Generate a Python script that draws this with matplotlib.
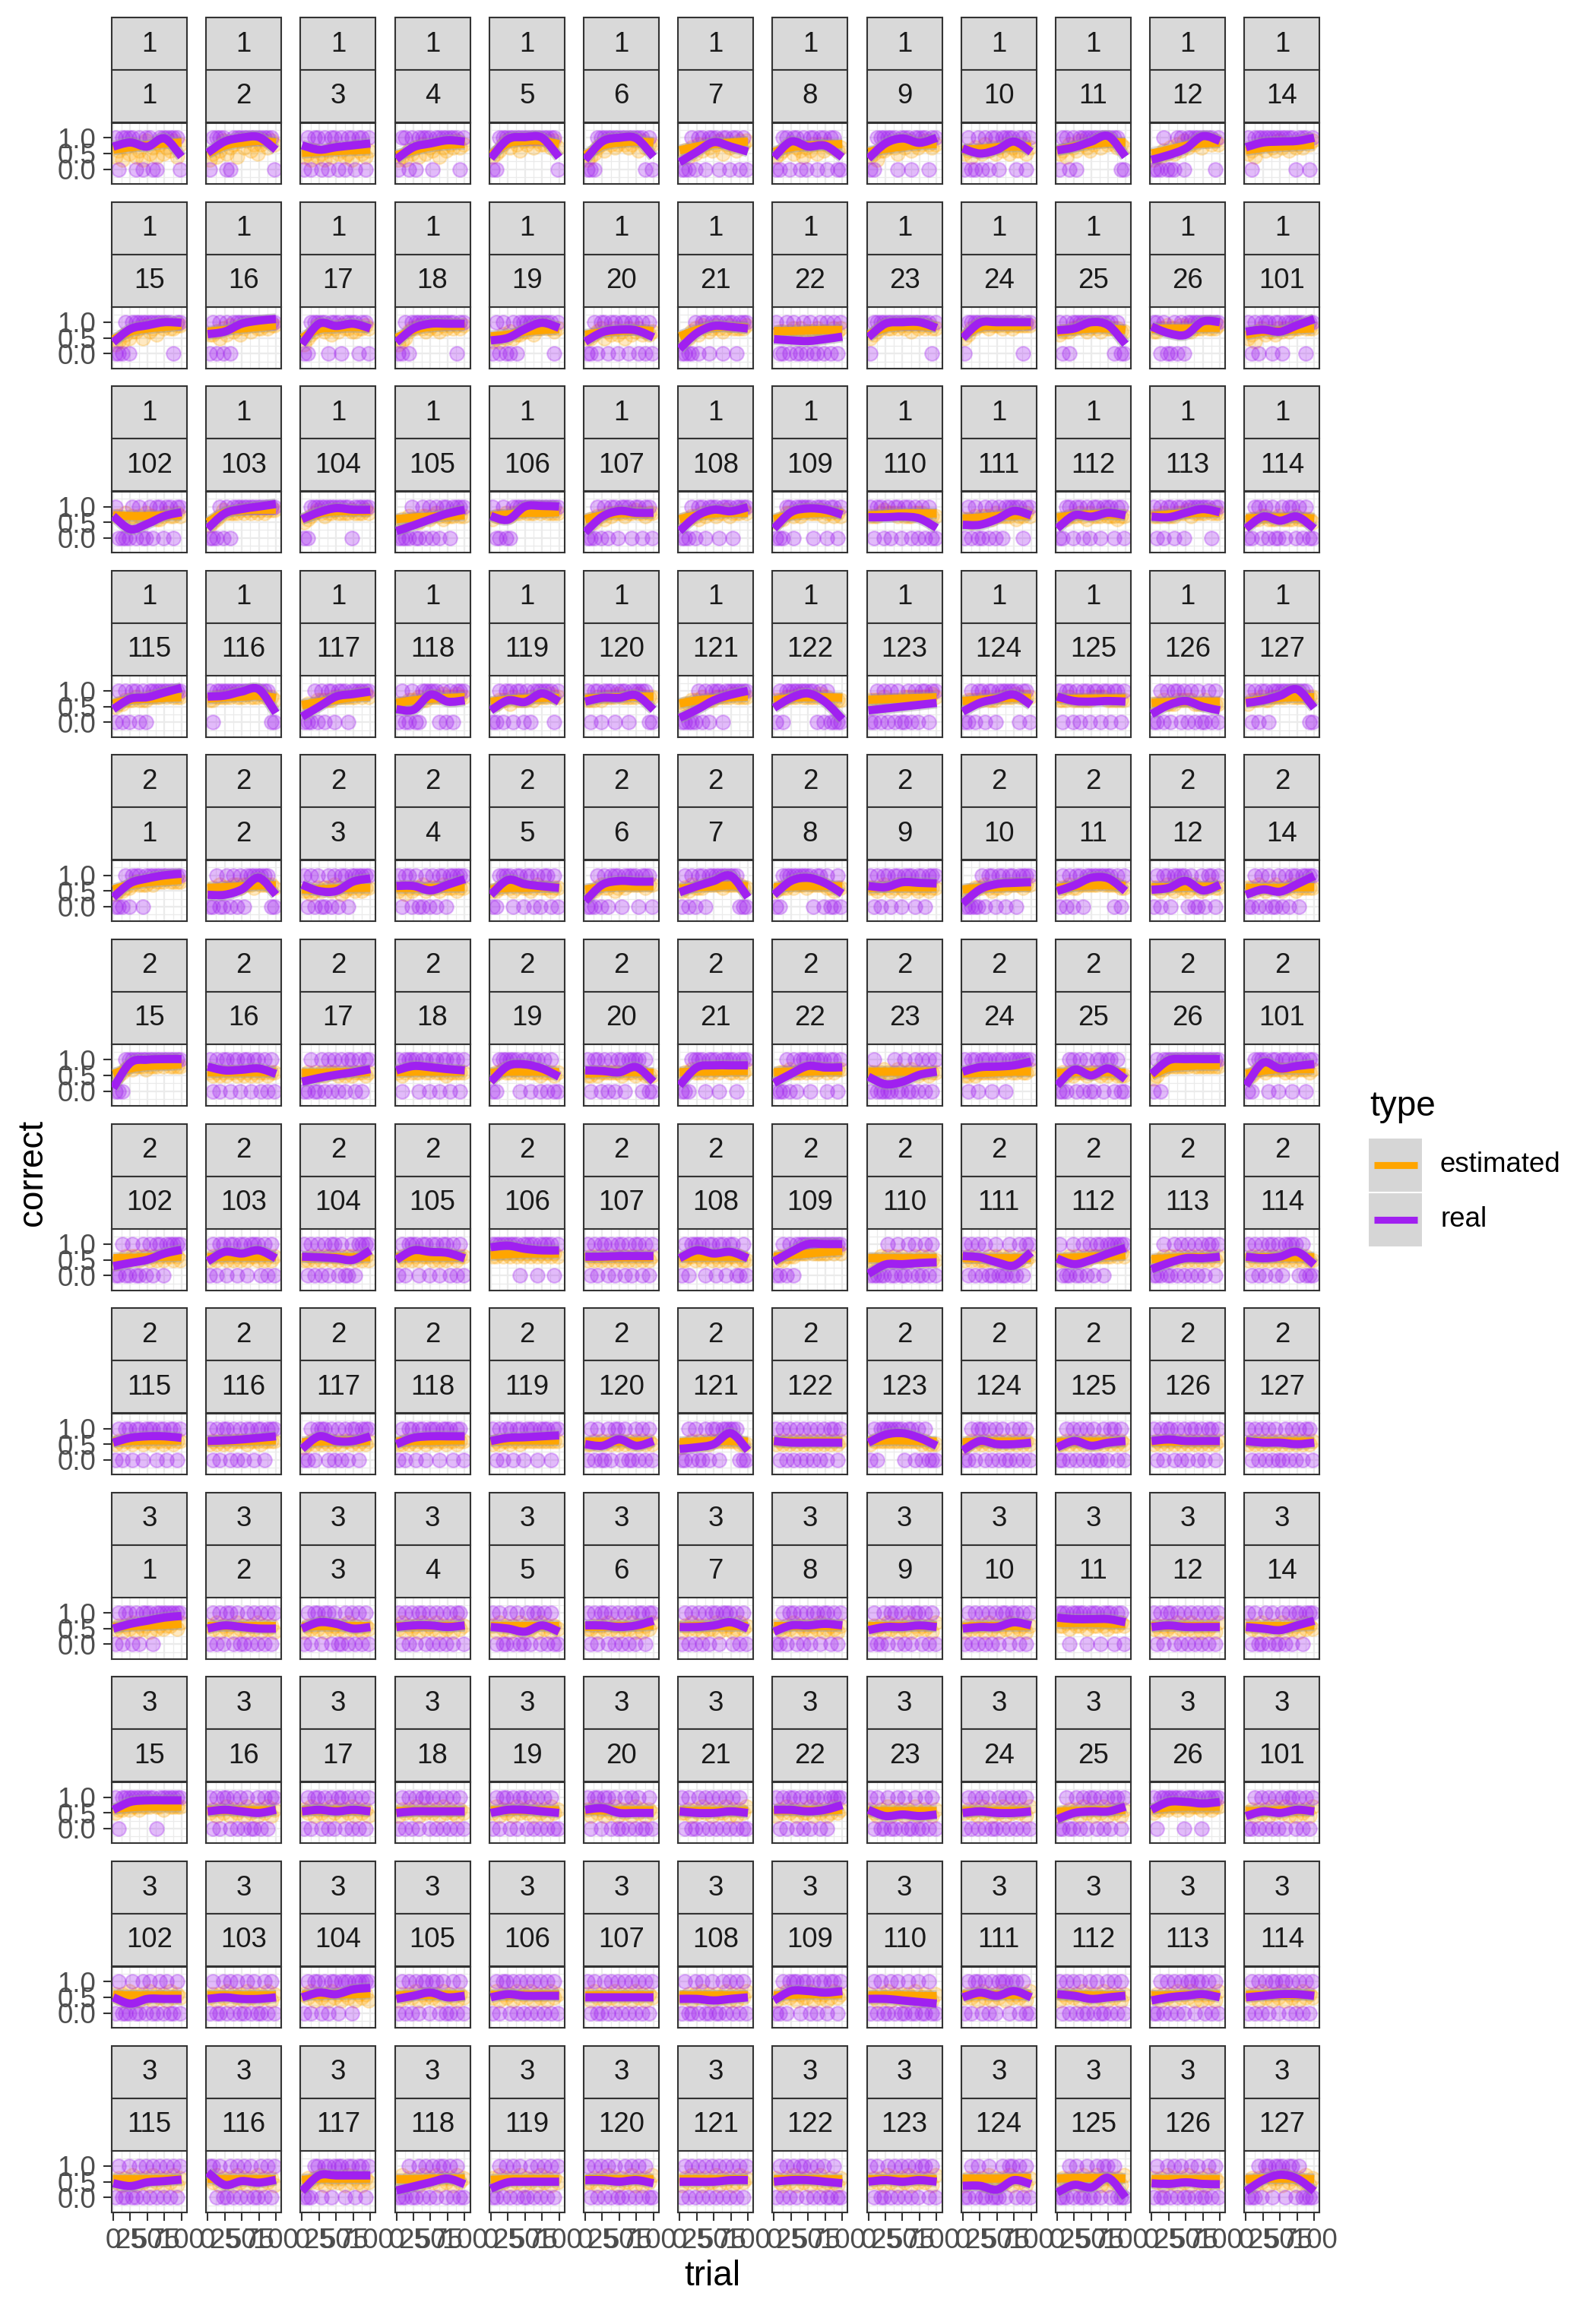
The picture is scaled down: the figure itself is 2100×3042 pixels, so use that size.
import numpy as np
import matplotlib
matplotlib.use("Agg")
import matplotlib.pyplot as plt
from matplotlib.path import Path
from matplotlib.patches import PathPatch, Rectangle
from matplotlib.lines import Line2D

plt.rcParams['font.family'] = ['Liberation Sans', 'DejaVu Sans']

# facets: session x subject, 13 per row
sessions = [1, 2, 3]
subjects = [1, 2, 3, 4, 5, 6, 7, 8, 9, 10, 11, 12, 14, 15, 16, 17, 18, 19, 20, 21, 22, 23, 24, 25, 26,
            101, 102, 103, 104, 105, 106, 107, 108, 109, 110, 111, 112, 113, 114,
            115, 116, 117, 118, 119, 120, 121, 122, 123, 124, 125, 126, 127]

# trials where points are shown, and trials where the smooth curves were read
trials = [3, 8, 13, 18, 23, 28, 33, 38, 43, 48, 53, 58, 63, 68, 73, 78, 83, 88, 93, 98]
curve_trials = [0, 25, 50, 75, 100]

# smoothed proportion correct (real), read per panel
real_curve = [
    # session 1
    [.72, .85, .72, .98, .40], [.52, .88, 1.0, 1.02, .62], [.76, .62, .70, .76, .82], [.32, .70, .82, .92, .88],
    [.35, .95, 1.02, 1.0, .38], [.30, .88, 1.0, .98, .40], [.22, .55, .86, .72, .56], [.38, .88, .72, .75, .38],
    [.34, .82, .98, .84, 1.0], [.66, .50, .62, .88, .55], [.60, .70, .88, 1.05, .40], [.30, .45, .66, 1.05, .90],
    [.70, .85, .88, .90, 1.0],
    [.36, .78, .90, 1.0, .98], [.62, .70, .95, 1.05, 1.1], [.30, .95, .88, .95, .80], [.36, .80, .95, .95, .95],
    [.42, .50, .78, .98, .82], [.38, .68, .76, .74, .52], [.15, .65, .88, .85, .80], [.46, .42, .40, .46, .54],
    [.52, .95, 1.0, 1.0, .82], [.50, .98, 1.0, 1.0, 1.0], [.74, .80, 1.0, .90, .30], [.86, .65, .60, 1.02, 1.0],
    [.70, .76, .70, .90, 1.1],
    [.70, .28, .45, .70, .82], [.30, .78, .92, 1.0, 1.08], [.60, .82, .95, .90, .90], [.22, .40, .60, .78, .90],
    [.70, .58, 1.0, 1.02, 1.0], [.18, .68, .86, .80, .80], [.22, .70, .90, .85, .98], [.30, .82, .94, .90, .74],
    [.66, .66, .68, .62, .32], [.42, .42, .60, .86, .72], [.30, .72, .68, .80, .72], [.68, .66, .80, .92, .82],
    [.30, .68, .55, .68, .30],
    [.42, .75, .80, .95, 1.1], [.82, .85, .98, 1.05, .30], [.18, .50, .82, .90, .98], [.42, .40, .88, .66, .70],
    [.38, .70, .65, .92, .66], [.66, .78, .78, .86, .40], [.14, .40, .70, .88, 1.0], [.46, .78, .92, .65, .10],
    [.38, .44, .50, .56, .62], [.34, .62, .75, .88, .55], [.82, .68, .66, .68, .66], [.26, .55, .68, .50, .38],
    [.62, .70, .85, 1.05, .46],
    # session 2
    [.30, .75, .90, 1.0, 1.05], [.38, .38, .55, .92, .38], [.70, .50, .50, .80, .90], [.66, .66, .52, .70, .88],
    [.38, .85, .72, .65, .60], [.18, .70, .82, .80, .80], [.46, .65, .82, .98, .30], [.38, .82, .92, .75, .42],
    [.66, .62, .78, .76, .74], [.10, .55, .72, .76, .78], [.50, .68, .92, .90, .50], [.54, .60, .82, .52, .70],
    [.38, .55, .48, .72, .98],
    [.10, .90, 1.0, 1.02, 1.02], [.78, .66, .68, .72, .55], [.30, .42, .52, .60, .70], [.66, .80, .76, .70, .66],
    [.30, .80, .85, .72, .46], [.66, .64, .60, .76, .30], [.18, .75, .82, .82, .82], [.26, .55, .80, .75, .76],
    [.46, .22, .30, .52, .62], [.62, .76, .78, .82, .94], [.18, .68, .50, .72, .38], [.54, .98, 1.02, 1.02, 1.02],
    [.18, .90, .72, .80, .86],
    [.30, .40, .50, .70, .82], [.45, .75, .70, .80, .55], [.60, .58, .55, .50, .80], [.50, .80, .75, .72, .55],
    [.90, .95, .85, .80, .80], [.60, .60, .62, .62, .62], [.55, .80, .70, .75, .55], [.45, .75, 1.0, 1.0, 1.0],
    [.05, .35, .36, .40, .42], [.62, .58, .42, .32, .74], [.54, .36, .50, .70, .88], [.20, .40, .55, .55, .60],
    [.60, .55, .60, .75, .35],
    [.55, .70, .75, .75, .70], [.60, .62, .65, .70, .75], [.35, .75, .60, .60, .75], [.50, .70, .75, .75, .75],
    [.60, .70, .72, .75, .78], [.50, .45, .65, .45, .60], [.35, .40, .50, .85, .30], [.60, .55, .55, .55, .55],
    [.55, .80, .85, .70, .45], [.30, .60, .50, .50, .55], [.40, .60, .45, .55, .60], [.60, .65, .60, .60, .60],
    [.60, .55, .55, .50, .55],
    # session 3
    [.50, .65, .75, .85, .90], [.50, .60, .55, .50, .50], [.50, .70, .65, .50, .55], [.55, .60, .60, .55, .60],
    [.55, .50, .40, .60, .40], [.60, .60, .55, .60, .75], [.55, .55, .60, .70, .50], [.40, .60, .60, .65, .60],
    [.45, .55, .55, .60, .55], [.50, .55, .55, .70, .60], [.85, .80, .80, .80, .70], [.55, .60, .55, .55, .55],
    [.55, .50, .45, .60, .75],
    [.60, .85, .90, .90, .90], [.55, .60, .55, .50, .60], [.55, .60, .55, .60, .55], [.50, .55, .55, .55, .55],
    [.50, .60, .60, .55, .50], [.60, .65, .50, .50, .50], [.55, .50, .50, .55, .50], [.60, .60, .55, .60, .75],
    [.60, .40, .45, .40, .45], [.50, .55, .50, .50, .55], [.30, .50, .55, .55, .70], [.60, .85, .85, .80, .85],
    [.40, .55, .50, .60, .55],
    [.50, .30, .45, .45, .45], [.45, .50, .45, .45, .50], [.50, .65, .60, .75, .80], [.45, .55, .65, .50, .55],
    [.50, .60, .55, .55, .55], [.50, .50, .50, .50, .50], [.45, .45, .40, .45, .50], [.40, .70, .70, .65, .70],
    [.45, .45, .40, .35, .30], [.50, .65, .55, .70, .50], [.60, .55, .45, .50, .55], [.40, .50, .55, .60, .50],
    [.50, .55, .60, .60, .55],
    [.45, .36, .48, .52, .57], [.80, .40, .52, .47, .56], [.20, .70, .70, .70, .70], [.22, .35, .48, .60, .42],
    [.28, .48, .50, .50, .50], [.55, .55, .50, .55, .45], [.50, .50, .50, .55, .55], [.50, .55, .55, .50, .45],
    [.50, .55, .50, .55, .50], [.37, .37, .25, .55, .42], [.16, .40, .32, .62, .00], [.45, .43, .48, .43, .42],
    [.20, .55, .72, .60, .20],
]

# smoothed estimated probability, read per panel
est_curve = [
    # session 1
    [.62, .70, .76, .82, .85], [.50, .75, .85, .90, .85], [.52, .55, .58, .60, .62], [.45, .60, .72, .78, .80],
    [.45, .82, .90, .90, .80], [.45, .75, .85, .88, .85], [.60, .72, .80, .85, .88], [.55, .70, .75, .78, .80],
    [.55, .65, .72, .78, .80], [.62, .65, .70, .72, .72], [.60, .72, .80, .85, .85], [.50, .62, .75, .82, .85],
    [.60, .68, .72, .75, .78],
    [.45, .70, .80, .85, .90], [.70, .75, .80, .85, .90], [.50, .78, .82, .85, .82], [.50, .75, .85, .88, .88],
    [.55, .60, .70, .75, .78], [.60, .68, .72, .75, .72], [.55, .75, .85, .85, .82], [.72, .72, .74, .75, .75],
    [.60, .82, .88, .88, .85], [.55, .85, .88, .88, .90], [.68, .75, .80, .80, .75], [.78, .80, .80, .82, .82],
    [.60, .70, .72, .78, .80],
    [.72, .70, .70, .72, .72], [.50, .80, .88, .90, .90], [.60, .78, .85, .85, .85], [.60, .65, .68, .70, .72],
    [.70, .75, .80, .80, .82], [.60, .72, .78, .78, .78], [.60, .72, .78, .80, .80], [.60, .72, .78, .80, .78],
    [.72, .75, .78, .78, .78], [.62, .65, .70, .72, .72], [.65, .72, .75, .75, .72], [.70, .75, .78, .80, .80],
    [.62, .65, .65, .65, .62],
    [.60, .72, .75, .78, .80], [.75, .80, .82, .85, .78], [.55, .65, .72, .80, .82], [.62, .70, .75, .78, .80],
    [.65, .72, .75, .78, .78], [.75, .78, .80, .82, .82], [.60, .70, .75, .80, .82], [.70, .78, .80, .80, .78],
    [.72, .74, .76, .78, .80], [.68, .72, .76, .78, .78], [.75, .75, .76, .76, .76], [.62, .65, .66, .66, .66],
    [.65, .72, .78, .80, .80],
    # session 2
    [.55, .70, .78, .82, .85], [.60, .62, .65, .68, .68], [.55, .55, .58, .60, .60], [.60, .60, .60, .62, .62],
    [.55, .60, .60, .62, .62], [.55, .62, .65, .65, .65], [.58, .62, .65, .68, .65], [.62, .65, .66, .66, .65],
    [.60, .62, .62, .62, .62], [.55, .60, .62, .64, .64], [.60, .65, .68, .68, .66], [.62, .62, .64, .64, .64],
    [.60, .60, .60, .62, .62],
    [.55, .72, .80, .82, .85], [.60, .60, .60, .60, .60], [.58, .58, .60, .60, .60], [.60, .62, .62, .62, .62],
    [.58, .62, .62, .62, .60], [.55, .58, .60, .60, .58], [.60, .62, .62, .64, .64], [.60, .62, .62, .64, .64],
    [.62, .62, .62, .62, .62], [.56, .58, .60, .62, .62], [.58, .60, .60, .60, .58], [.50, .75, .80, .82, .82],
    [.55, .65, .70, .70, .70],
    [.55, .56, .58, .60, .60], [.58, .60, .60, .60, .60], [.58, .58, .58, .58, .58], [.58, .60, .60, .60, .60],
    [.65, .68, .70, .70, .70], [.58, .58, .58, .58, .58], [.58, .60, .60, .60, .60], [.60, .65, .70, .75, .78],
    [.55, .55, .55, .55, .55], [.55, .55, .55, .55, .55], [.55, .57, .60, .62, .65], [.52, .55, .58, .58, .58],
    [.58, .58, .58, .58, .58],
    [.58, .60, .62, .62, .62], [.58, .60, .60, .62, .62], [.56, .58, .60, .60, .60], [.58, .60, .60, .62, .62],
    [.60, .62, .62, .62, .62], [.58, .58, .58, .58, .58], [.56, .58, .60, .60, .58], [.58, .58, .58, .58, .58],
    [.60, .62, .62, .60, .58], [.56, .58, .58, .58, .58], [.56, .58, .58, .58, .58], [.58, .58, .58, .58, .58],
    [.58, .58, .58, .58, .58],
    # session 3
    [.55, .58, .60, .62, .65], [.58, .58, .58, .58, .58], [.56, .58, .58, .58, .58], [.58, .58, .58, .58, .58],
    [.58, .58, .58, .58, .58], [.56, .56, .58, .58, .60], [.56, .58, .58, .58, .58], [.58, .58, .58, .58, .58],
    [.58, .58, .58, .58, .58], [.56, .58, .58, .58, .58], [.68, .68, .68, .66, .65], [.58, .58, .58, .58, .58],
    [.58, .58, .58, .58, .60],
    [.62, .68, .70, .70, .70], [.58, .58, .58, .58, .58], [.58, .58, .58, .58, .58], [.56, .56, .56, .56, .56],
    [.58, .58, .58, .58, .58], [.58, .58, .58, .58, .58], [.56, .56, .56, .56, .56], [.58, .58, .58, .58, .60],
    [.56, .56, .56, .56, .56], [.56, .56, .56, .56, .56], [.54, .56, .58, .58, .60], [.62, .68, .70, .70, .70],
    [.56, .56, .58, .58, .58],
    [.58, .56, .56, .56, .56], [.56, .56, .56, .56, .56], [.58, .58, .60, .60, .62], [.56, .58, .58, .58, .58],
    [.58, .58, .58, .58, .58], [.56, .56, .56, .56, .56], [.56, .56, .56, .56, .56], [.56, .58, .60, .60, .60],
    [.56, .56, .56, .54, .54], [.58, .58, .58, .58, .58], [.58, .58, .56, .56, .56], [.56, .56, .58, .58, .58],
    [.58, .58, .58, .58, .58],
    [.58, .58, .58, .58, .58], [.60, .58, .58, .58, .58], [.56, .60, .60, .60, .60], [.58, .58, .60, .60, .60],
    [.56, .58, .58, .58, .58], [.58, .58, .58, .58, .58], [.58, .58, .58, .58, .58], [.58, .58, .58, .58, .58],
    [.58, .58, .58, .58, .58], [.60, .60, .60, .62, .62], [.60, .62, .62, .62, .60], [.58, .58, .58, .58, .58],
    [.58, .60, .60, .60, .58],
]

# real outcome (1 = correct) at each shown trial
real_hits = [
    # session 1
    "10111101011001111110", "01111001111111111110", "01011010110101101101", "01101011110111111101",
    "00111111111111111110", "00011111111111111010", "00010110111011011010", "00110110101101101100",
    "00111111011101111011", "01001010110111101101", "01101011111111111100", "00010001101111111101",
    "10111111111111011101",
    "00010111111111111011", "01010101111111111111", "00111110111011110110", "00101111111111111011",
    "01010010111111111101", "00101101101101101010", "00001011011101110111", "10010100101001010101",
    "01111111111111111101", "01111111111111111011", "10101111111111110100", "11010010101111111111",
    "10101110110111111011",
    "10000101001011011011", "00010101111111111111", "00111111111111011111", "00001001010101101111",
    "10010011111111111111", "00010101101110110110", "00010110111011101111", "00011011111011101101",
    "10110101101101010100", "01010010101011111011", "00110110101101110110", "10101101101111111011",
    "00110101001011010100",
    "01010110101111111111", "10111111111111111100", "00010101101110111111", "01001001111101010111",
    "00101101101011111101", "10110111011101111100", "00000101011101111111", "01011111111101010000",
    "00101010100101011011", "00101101101111110110", "10110101101101101101", "00101011010101001010",
    "10101101111111111100",
    # session 2
    "00010111011111111111", "00100101010111111100", "10101001010110111111", "10110100101011011111",
    "00111101101101011010", "00010101110111101110", "01010110111111111000", "00111111111011010010",
    "10101101101110110111", "00000101101101101111", "01010110111111110101", "01011011110100101101",
    "00101010010101101111",
    "00011111111111111111", "10101101101101101010", "00100101010101101011", "10111101101101101101",
    "00111111011011010100", "10110101011011110100", "00011110111011110111", "00010101110111101101",
    "01000001001001010101", "10110111011101111111", "00011010100110110100", "01011111111111111111",
    "00111101101110111011",
    "00100100101011011111", "01011011011011101010", "10101010110100101111", "01011101101101101010",
    "11111111011110111101", "10101101011010110101", "01011110110110110010", "00101011111111111111",
    "00000100100101001010", "10101010010001001011", "10001001010110111111", "00010010101010101101",
    "10101011010111101000",
    "01011011011101101101", "10101101010110110111", "00101110101010110111", "01011011011101110110",
    "10101101101110111011", "01010010110100101010", "00101001011011111000", "10101010101010101101",
    "01011111110110101000", "00101101010100101010", "00101010101001011010", "10101101010110101101",
    "10101010100101010110",
    # session 3
    "01011010111011111111", "01010110100101010101", "01011011010010101010", "10101011010101010110",
    "10100101001011010100", "10101101010101011011", "01010101011011101010", "00101101010110110101",
    "01001011010101101010", "01010101010110110101", "11101111011101110110", "10101101010101010101",
    "10100101001010110111",
    "10111111111101111111", "10101101010100101011", "01011010101101010101", "01010101101010101010",
    "01011010110101010100", "10110110100101010010", "10100101010101010100", "10101101010110101111",
    "10100100101001001010", "01010101001010101010", "00100101011010101101", "10111111101111011111",
    "00101010101011010101",
    "01000100101001010010", "01001010100101001010", "01011010110111011111", "01010101101101001010",
    "01011010101010101010", "10100101010101010101", "01001010010010101010", "00101110110101101101",
    "01010010100100100100", "01011010101110110100", "10101010010100101010", "00101010101101101010",
    "01010101101101010101",
    "01001001010101010101", "11010010101010010101", "00011011011101101101", "00010010101011010100",
    "00101010100101010101", "10101010100101010100", "01010101010101010101", "01010101101010100100",
    "10100101010101011010", "00101001000101101010", "00010100100101101000", "01001010100101001010",
    "00010110111011010000",
]

# estimated probability (tenths) at each shown trial
est_points = [
    # session 1
    "46375846395748576948", "35469578497968589798", "45364536475645376546", "34365748576847687978",
    "45689798698979889797", "34578698789878969788", "56475868768958786989", "45678576476858687767",
    "45366787587968789878", "56476586757685766857", "56487698768979898787", "34465758697889799898",
    "56478687697868787989",
    "34465778597869898899", "66758697868979889899", "35679878687988778898", "34578898789879898989",
    "45465756677868898878", "55678576867586786767", "45578698789878988889", "67767878677787776878",
    "56789889898979898988", "56889998999899899999", "67778898789879888877", "77889887989788898889",
    "56478677687878889888",
    "77686757687766787787", "45679888898989898999", "56789878898888988898", "56576657767876777877",
    "67778788898889898888", "56577687888788988788", "56677687887889788898", "56688787898889788787",
    "77789888787778887777", "66576777687777867787", "66677787687778777677", "77787778889788889888",
    "56667766676666766665",
    "56677787778888989888", "77888889888988898887", "56567777788888889898", "66677787788889888988",
    "66777687777878888988", "77787888898888898888", "56677787778888898888", "77788889888889887777",
    "77778777778888888898", "67777787778888898888", "77787777778888777777", "66676667777766676666",
    "67778778888898888888",
    # session 2
    "45566787778788898888", "56576667767776877776", "55456566576456656566", "56465667566657666566",
    "55667656766567666566", "45567667567677777677", "56576667777767777766", "56667677767777766566",
    "66567656765676566566", "45566676566767777677", "56676677777787777766", "66567657665676566766",
    "66576566765667566666",
    "45678788878889898888", "65656566565656566566", "56565656665656566656", "65676667667666566666",
    "56676676667666566656", "55656666665666566555", "56676667667677667667", "56667666767667767677",
    "66567656765676566566", "55656666666767667667", "56565666566656566555", "45778888888988888888",
    "55677677777676777767",
    "45565665665656566565", "56566565656566565656", "55656566565656656565", "56565656665656566566",
    "66767676767676767676", "56565656565656565656", "55665656656565665655", "56566677778777778787",
    "55565656565556565655", "56565556565656555656", "55565656566666667676", "45565656565656565656",
    "56565656565656565655",
    "56566566566566566566", "56565656666566656666", "45656565656566565656", "55656566566566566566",
    "56566566566666666666", "55656565656565656565", "45565656566666666555", "56565656565656565656",
    "56666666666666656555", "45656565656565656565", "55656565656565656565", "56565656565656565656",
    "56565656565656565656",
    # session 3
    "56465746564756566757", "65746564756465746564", "46565746565647565465", "57465647565746564756",
    "64756465746564756465", "55646575646557464657", "46575646557465645756", "65465746564657456546",
    "56564756465746565647", "46565647564657465646", "66757667576676576676", "56465647565746465647",
    "65647564657465647565",
    "56676776777877687777", "56465746564756465746", "65746564756465746564", "46565746565647565465",
    "57465647565746564756", "64756465746564756465", "55646575646557464657", "46575646557465645756",
    "65465746564657456546", "56564756465746565647", "45565647564657465646", "56676776776777677677",
    "56465647565746465647",
    "65647564657465647565", "56465746564756465746", "65746564756465746564", "46565746565647565465",
    "57465647565746564756", "64756465746564756465", "55646575646557464657", "46575646557465645756",
    "65465746564657456546", "56564756465746565647", "46565647564657465646", "56465647565746465647",
    "65647564657465647565",
    "56465746564756465746", "65746564756465746564", "46565746565647565465", "57465647565746564756",
    "64756465746564756465", "55646575646557464657", "46575646557465645756", "65465746564657456546",
    "56564756465746565647", "46565647564657465646", "56465647565746465647", "65647564657465647565",
    "56465746564756465746",
]

ORANGE = '#FFA500'
PURPLE = '#A020F0'
W, H = 2100, 3042


def fx(px):
    return px / W


def fy(py):
    return 1 - py / H


def smooth_path(xs, ys):
    # cubic bezier through the read points (drawing only)
    pts = np.column_stack([xs, ys]).astype(float)
    n = len(pts)
    verts = [pts[0]]
    codes = [Path.MOVETO]
    for i in range(n - 1):
        p0 = pts[max(i - 1, 0)]
        p1 = pts[i]
        p2 = pts[i + 1]
        p3 = pts[min(i + 2, n - 1)]
        verts += [p1 + (p2 - p0) / 6, p2 - (p3 - p1) / 6, p2]
        codes += [Path.CURVE4] * 3
    return Path(verts, codes)


fig = plt.figure(figsize=(7, 10.14), dpi=300)

ncol = 13
panels = [(s, subj) for s in sessions for subj in subjects]
for k, (sess, subj) in enumerate(panels):
    r, c = divmod(k, ncol)
    left = 147 + 124.2 * c
    top = 23 + 242.6 * r
    for j, lab in enumerate([sess, subj]):
        st = top + 69 * j
        fig.add_artist(Rectangle((fx(left), fy(st + 69)), 99 / W, 69 / H, transform=fig.transFigure,
                                 facecolor='#D9D9D9', edgecolor='#333333', lw=0.5))
        fig.text(fx(left + 49.5), fy(st + 35), str(lab), ha='center', va='center',
                 fontsize=8.8, color='#1A1A1A')

    ax = fig.add_axes([fx(left), fy(top + 219), 99 / W, 80.5 / H])
    ax.set_xlim(-2.2, 108)
    ax.set_ylim(-0.47, 1.48)
    ax.set_xticks([0, 25, 50, 75, 100])
    ax.set_xticks([12.5, 37.5, 62.5, 87.5], minor=True)
    ax.set_yticks([0, 0.5, 1.0])
    ax.set_yticks([-0.25, 0.25, 0.75, 1.25], minor=True)
    ax.grid(True, which='major', color='#EBEBEB', lw=0.55)
    ax.grid(True, which='minor', color='#EBEBEB', lw=0.3)
    ax.set_axisbelow(True)
    for sp in ax.spines.values():
        sp.set_color('#333333')
        sp.set_linewidth(0.5)
    ax.tick_params(which='minor', length=0)
    ax.tick_params(which='major', length=2.75, width=0.5, color='#333333', labelsize=8.8,
                   labelcolor='#4D4D4D', pad=2.2)
    ax.set_yticklabels(['0.0', '0.5', '1.0'])
    if c != 0:
        ax.tick_params(axis='y', length=0, labelleft=False)
    if r != len(sessions) * 4 - 1:
        ax.tick_params(axis='x', length=0, labelbottom=False)

    hits = [int(ch) for ch in real_hits[k]]
    est = [int(ch) / 10 for ch in est_points[k]]
    ax.scatter(trials[:len(est)], est, s=20, color=ORANGE, alpha=0.24, lw=0.5, zorder=2)
    ax.scatter(trials[:len(hits)], hits, s=20, color=PURPLE, alpha=0.3, lw=0.5, zorder=2)

    for curve, col in [(est_curve[k], ORANGE), (real_curve[k], PURPLE)]:
        path = smooth_path(curve_trials, curve)
        ax.add_patch(PathPatch(path, facecolor='none', edgecolor='#999999', lw=3.6, alpha=0.45,
                               zorder=3))
        ax.add_patch(PathPatch(path, facecolor='none', edgecolor=col, lw=2.6, capstyle='butt',
                               zorder=4))

# axis titles
fig.text(fx(43), fy(1543), 'correct', rotation=90, ha='center', va='center', fontsize=11)
fig.text(fx(937), fy(2995), 'trial', ha='center', va='center', fontsize=11)

# legend
fig.text(fx(1802), fy(1456), 'type', ha='left', va='center', fontsize=11)
for i, (lab, col) in enumerate([('estimated', ORANGE), ('real', PURPLE)]):
    ky = 1497 + 72 * i
    fig.add_artist(Rectangle((fx(1800), fy(ky + 72)), 72 / W, 72 / H, transform=fig.transFigure,
                             facecolor='#D6D6D6', edgecolor='white', lw=0.5))
    fig.add_artist(Line2D([fx(1808), fx(1865)], [fy(ky + 36)] * 2, transform=fig.transFigure,
                          color=col, lw=2.2, solid_capstyle='butt'))
    fig.text(fx(1895), fy(ky + 36), lab, ha='left', va='center', fontsize=8.8)

fig.savefig('out.png', dpi=300, facecolor='white')
